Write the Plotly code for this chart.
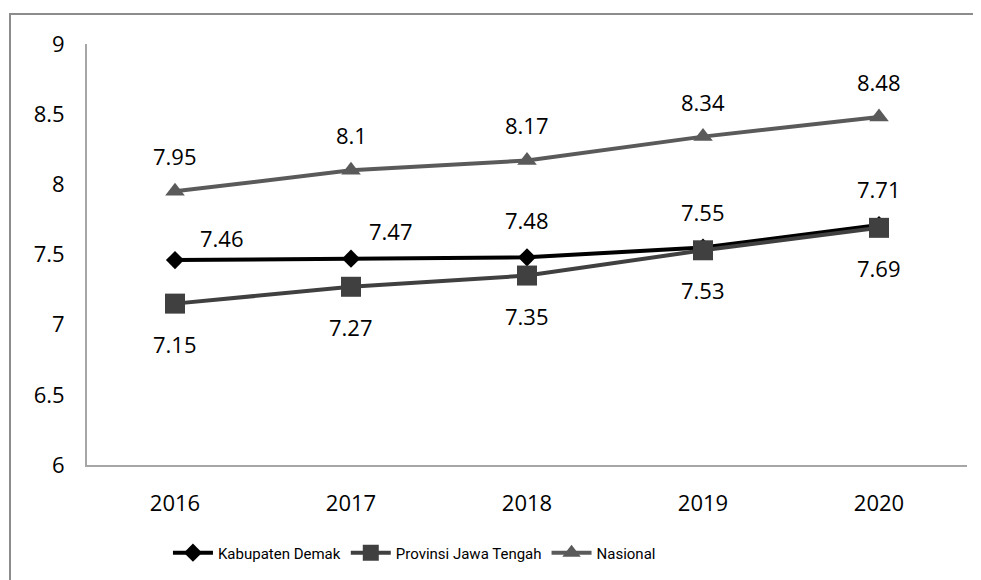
import plotly.graph_objects as go

years = ["2016", "2017", "2018", "2019", "2020"]
kabupaten = [7.46, 7.47, 7.48, 7.55, 7.71]
provinsi = [7.15, 7.27, 7.35, 7.53, 7.69]
nasional = [7.95, 8.10, 8.17, 8.34, 8.48]
y_ticks = [6, 6.5, 7, 7.5, 8, 8.5, 9]

names = ["Kabupaten Demak", "Provinsi Jawa Tengah", "Nasional"]
FONT = "Open Sans"
LBL = 22

fig = go.Figure()
fig.add_trace(go.Scatter(x=years, y=kabupaten, name=names[0], mode="lines+markers",
                         line=dict(color="#000000", width=4),
                         marker=dict(symbol="diamond", size=14, color="#000000")))
fig.add_trace(go.Scatter(x=years, y=provinsi, name=names[1], mode="lines+markers",
                         line=dict(color="#404040", width=4),
                         marker=dict(symbol="square", size=20, color="#404040")))
fig.add_trace(go.Scatter(x=years, y=nasional, name=names[2], mode="lines+markers",
                         line=dict(color="#5a5a5a", width=4),
                         marker=dict(symbol="triangle-up", size=17, color="#5a5a5a")))

# label offsets (style)
kab_shift = [(47, 22), (40, 28), (0, 37), (0, 35), (0, 36)]
annotations = []
for i, yr in enumerate(years):
    dx, dy = kab_shift[i]
    annotations.append(dict(x=i, y=kabupaten[i], text=f"{kabupaten[i]:g}", showarrow=False,
                            xshift=dx, yshift=dy, font=dict(size=LBL, color="#000")))
    annotations.append(dict(x=i, y=provinsi[i], text=f"{provinsi[i]:g}", showarrow=False,
                            yshift=-40, font=dict(size=LBL, color="#000")))
    annotations.append(dict(x=i, y=nasional[i], text=f"{nasional[i]:g}", showarrow=False,
                            yshift=35, font=dict(size=LBL, color="#000")))

fig.update_layout(
    width=973, height=572,
    margin=dict(l=79, r=14, t=36, b=114),
    paper_bgcolor="white", plot_bgcolor="white",
    font=dict(family=FONT, size=LBL, color="#000"),
    showlegend=True,
    legend=dict(orientation="h", x=0.092, xanchor="left", y=-0.206, yanchor="middle",
                font=dict(size=15, family="Roboto"), itemwidth=40,
                traceorder="normal"),
    annotations=annotations,
    shapes=[dict(type="rect", xref="paper", yref="paper",
                 x0=-0.0875, x1=1.03, y0=-0.3, y1=1.0711,
                 line=dict(color="#8c8c8c", width=2), fillcolor="rgba(0,0,0,0)",
                 layer="below")],
)
fig.update_xaxes(type="category", showline=True, linecolor="#a6a6a6", linewidth=2,
                 showgrid=False, ticks="", ticklabelstandoff=18, range=[-0.5, 4.5])
fig.update_yaxes(range=[6, 9], tickvals=y_ticks, ticktext=[f"{v:g}" for v in y_ticks],
                 showline=True, linecolor="#a6a6a6", linewidth=2, showgrid=False,
                 zeroline=False, ticks="", ticklabelstandoff=16)

fig.write_html("out.html")
